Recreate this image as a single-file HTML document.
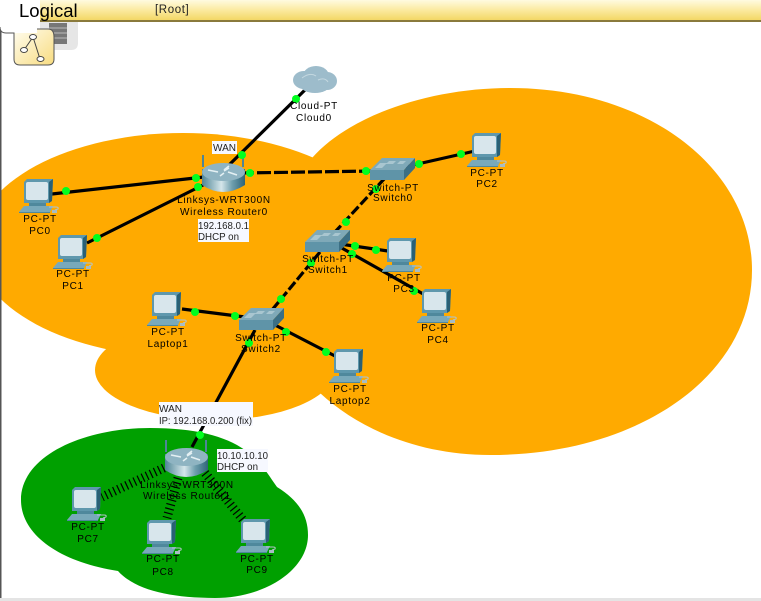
<!DOCTYPE html>
<html><head><meta charset="utf-8"><style>
html,body{margin:0;padding:0;background:#fff;width:761px;height:601px;overflow:hidden}
svg{display:block}
text{font-family:"Liberation Sans",sans-serif;font-size:10px;fill:#000}
.c{text-anchor:middle;letter-spacing:.7px}
.l{font-size:10.5px;fill:#222}
</style></head><body>
<svg width="761" height="601" viewBox="0 0 761 601" xmlns="http://www.w3.org/2000/svg">
<defs>
<linearGradient id="bar" x1="0" y1="0" x2="0" y2="1"><stop offset="0" stop-color="#fffbe0"/><stop offset=".5" stop-color="#fbeaa0"/><stop offset="1" stop-color="#f3d766"/></linearGradient>
<linearGradient id="tab" x1="0" y1="0" x2="1" y2="1"><stop offset="0" stop-color="#fffdf0"/><stop offset="1" stop-color="#f8dc80"/></linearGradient>
<linearGradient id="rb" x1="0" y1="0" x2="1" y2="0"><stop offset="0" stop-color="#4f8596"/><stop offset=".45" stop-color="#d5e6ea"/><stop offset=".7" stop-color="#6f9fae"/><stop offset="1" stop-color="#2f6478"/></linearGradient>
<g id="pc">
<path d="M0 3 L3 0 L29 0 L28 22 L25 24 L0 24Z" fill="#5f98ad"/>
<path d="M25 3L29 0L28 22L25 24Z" fill="#2a6075"/>
<rect x="2" y="3" width="22" height="18" rx="2" fill="#d8e6ec"/>
<rect x="5" y="24" width="17" height="3" fill="#4f889c"/>
<path d="M-5 33L0 27H29L26 33Z" fill="#79a9ba"/>
<path d="M-5 33H26V34H-5Z" fill="#4f889c"/>
<path d="M25 28h7q3 0 2 2l-3 1" stroke="#b4c4c8" fill="none"/>
<rect x="28" y="31" width="5" height="3" fill="#a8bcc4"/>
</g>
<g id="sw">
<path d="M0 12L12 0H45L34 12Z" fill="#7fa9b8"/>
<path d="M5 10l5-5h7l-5 5zM16 6l3-3h7l-3 3zM27 6l3-3h6l-3 3z" fill="#a9c6d0"/>
<rect x="0" y="12" width="34" height="10" fill="#5f94a8"/>
<path d="M34 12L45 0V10L34 22Z" fill="#3b6f85"/>
</g>
<g id="rt">
<path d="M1 0V12M41 0V12" stroke="#4f8596" stroke-width="2"/>
<path d="M0 14V30Q21 44 43 30V14Z" fill="url(#rb)"/>
<ellipse cx="21.500" cy="17" rx="21.500" ry="9" fill="#8fb4c2"/>
<path d="M6 15l10 2M27 13l-5 3M18 21l4-3M26 17l9 3M22 15l5-4" stroke="#e4f0f3" stroke-width="1.600"/>
</g>
</defs>

<!-- orange cloud -->
<g fill="#ffaa00">
<ellipse cx="183" cy="245" rx="208" ry="112"/>
<ellipse cx="215" cy="370" rx="120" ry="50"/>
<path d="M312 158C350 115 430 88 510 88C650 88 752 170 752 270C752 375 640 455 490 455C420 455 360 430 320 393L200 300Z"/>
</g>
<!-- green cloud -->
<path fill="#00a000" d="M21 500C21 455 85 428 150 428C195 428 225 436 245 450C262 462 268 475 277 487C298 500 308 515 308 535C308 570 265 598 215 598C170 598 135 590 118 571C60 562 21 535 21 500Z"/>

<!-- links -->
<g stroke="#000" stroke-width="3.200" fill="none">
<path d="M312 83L228 166"/>
<path d="M52 194L204 177"/>
<path d="M87 243L207 183"/>
<path d="M400 168L475 151"/>
<path d="M340 244L388 251"/>
<path d="M340 247L425 295"/>
<path d="M182 309L245 317"/>
<path d="M275 325L335 356"/>
<path d="M255 330L192 447"/>
<g stroke-dasharray="14 3">
<path d="M240 173L375 171"/>
</g>
<g stroke-dasharray="10 3">
<path d="M385 178L335 232"/>
<path d="M320 252L272 310"/>
</g>
</g>
<g stroke="#000" stroke-width="9" stroke-dasharray="1.200 3.300" fill="none">
<path d="M168 466L102 497"/>
<path d="M178 478L167 518"/>
<path d="M205 473L243 520"/>
</g>

<!-- cloud device -->
<g fill="#9dbccb">
<ellipse cx="304" cy="80" rx="11" ry="9"/>
<ellipse cx="316" cy="76" rx="13" ry="10"/>
<ellipse cx="327" cy="81" rx="10" ry="9"/>
<ellipse cx="315" cy="85" rx="15" ry="8"/>
</g>
<g fill="none" stroke="#c4d8e0"><path d="M302 78q8-6 14-2M318 80q7-3 10 2"/></g>

<!-- devices -->
<use href="#pc" x="24" y="179"/>
<use href="#pc" x="58" y="235"/>
<use href="#pc" x="472" y="133"/>
<use href="#pc" x="387" y="238"/>
<use href="#pc" x="422" y="289"/>
<use href="#pc" x="152" y="292"/>
<use href="#pc" x="334" y="349"/>
<use href="#pc" x="72" y="487"/>
<use href="#pc" x="147" y="520"/>
<use href="#pc" x="241" y="519"/>
<use href="#sw" x="370" y="158"/>
<use href="#sw" x="305" y="230"/>
<use href="#sw" x="239" y="308"/>
<use href="#rt" x="202" y="155"/>
<use href="#rt" x="165" y="440"/>

<!-- label boxes -->
<g fill="#f6f8ff">
<rect x="212" y="141" width="25" height="13"/>
<rect x="198" y="219" width="51" height="23"/>
<rect x="159" y="402" width="94" height="24"/>
<rect x="217" y="449" width="51" height="23"/>
</g>
<text class="l" x="213" y="151" textLength="23" lengthAdjust="spacingAndGlyphs">WAN</text>
<text class="l" x="198" y="229" textLength="51" lengthAdjust="spacingAndGlyphs">192.168.0.1</text>
<text class="l" x="198" y="240" textLength="41" lengthAdjust="spacingAndGlyphs">DHCP on</text>
<text class="l" x="159" y="412" textLength="23" lengthAdjust="spacingAndGlyphs">WAN</text>
<text class="l" x="159" y="424" textLength="93" lengthAdjust="spacingAndGlyphs">IP: 192.168.0.200 (fix)</text>
<text class="l" x="217" y="459" textLength="51" lengthAdjust="spacingAndGlyphs">10.10.10.10</text>
<text class="l" x="217" y="470" textLength="41" lengthAdjust="spacingAndGlyphs">DHCP on</text>

<!-- link lights -->
<g fill="#00ff1e">
<circle cx="296" cy="99" r="4"/><circle cx="242" cy="155" r="4"/>
<circle cx="66" cy="191" r="4"/><circle cx="196" cy="178" r="4"/>
<circle cx="97" cy="238" r="4"/><circle cx="198" cy="187" r="4"/>
<circle cx="250" cy="173" r="4"/><circle cx="366" cy="171" r="4"/>
<circle cx="419" cy="164" r="4"/><circle cx="461" cy="154" r="4"/>
<circle cx="376" cy="189" r="4"/><circle cx="346" cy="222" r="4"/>
<circle cx="355" cy="246" r="4"/><circle cx="376" cy="250" r="4"/>
<circle cx="352" cy="254" r="4"/><circle cx="414" cy="291" r="4"/>
<circle cx="311" cy="263" r="4"/><circle cx="281" cy="299" r="4"/>
<circle cx="195" cy="312" r="4"/><circle cx="235" cy="316" r="4"/>
<circle cx="286" cy="332" r="4"/><circle cx="326" cy="352" r="4"/>
<circle cx="249" cy="343" r="4"/><circle cx="200" cy="435" r="4"/>
</g>

<!-- device labels -->
<text class="c" x="314" y="109">Cloud-PT</text><text class="c" x="314" y="121">Cloud0</text>
<text class="c" x="224" y="203">Linksys-WRT300N</text><text class="c" x="224" y="215">Wireless Router0</text>
<text class="c" x="393" y="191">Switch-PT</text><text class="c" x="393" y="201">Switch0</text>
<text class="c" x="328" y="262">Switch-PT</text><text class="c" x="328" y="273">Switch1</text>
<text class="c" x="261" y="341">Switch-PT</text><text class="c" x="261" y="352">Switch2</text>
<text class="c" x="187" y="488">Linksys-WRT300N</text><text class="c" x="187" y="499">Wireless Router1</text>
<text class="c" x="40" y="222">PC-PT</text><text class="c" x="40" y="234">PC0</text>
<text class="c" x="73" y="277">PC-PT</text><text class="c" x="73" y="289">PC1</text>
<text class="c" x="487" y="176">PC-PT</text><text class="c" x="487" y="187">PC2</text>
<text class="c" x="404" y="281">PC-PT</text><text class="c" x="404" y="292">PC3</text>
<text class="c" x="438" y="331">PC-PT</text><text class="c" x="438" y="343">PC4</text>
<text class="c" x="168" y="335">PC-PT</text><text class="c" x="168" y="347">Laptop1</text>
<text class="c" x="350" y="392">PC-PT</text><text class="c" x="350" y="404">Laptop2</text>
<text class="c" x="88" y="530">PC-PT</text><text class="c" x="88" y="542">PC7</text>
<text class="c" x="163" y="562">PC-PT</text><text class="c" x="163" y="575">PC8</text>
<text class="c" x="257" y="562">PC-PT</text><text class="c" x="257" y="573">PC9</text>

<!-- chrome -->
<rect x="0" y="30" width="1.500" height="571" fill="#555"/>
<rect x="0" y="598" width="761" height="3" fill="#e4e4e4"/>
<path d="M40 20H78V43Q78 50 71 50H40Z" fill="#e6e6e6"/>
<rect x="49" y="23" width="18" height="21" fill="#777"/>
<path d="M49 28H67M49 33H67M49 38H67" stroke="#bbb"/>
<rect x="40" y="0" width="721" height="20" fill="url(#bar)"/>
<rect x="40" y="20" width="721" height="2" fill="#8a7a3c"/>
<path d="M0 0H40V28H37V33H6Q0 33 0 26Z" fill="#fff"/>
<path d="M14 33H37V29H48Q54 29 54 37V59Q54 65 48 65H20Q14 65 14 59Z" fill="url(#tab)"/>
<path d="M0 27Q0 33 6 33H14V59Q14 65 20 65H48Q54 65 54 59V37Q54 29 48 29H37" fill="none" stroke="#555"/>
<g stroke="#444" fill="#fff">
<path d="M33 37L24 50M33 37L40 59" fill="none"/>
<ellipse cx="33" cy="37" rx="3.500" ry="2.500"/>
<ellipse cx="24" cy="50" rx="3.500" ry="2.500"/>
<ellipse cx="40.500" cy="59" rx="3.500" ry="2.500"/>
</g>
<text x="19" y="17" style="font-size:18.500px">Logical</text>
<text x="155" y="13" style="font-size:11.500px;letter-spacing:.6px;fill:#222">[Root]</text>
</svg>
</body></html>
